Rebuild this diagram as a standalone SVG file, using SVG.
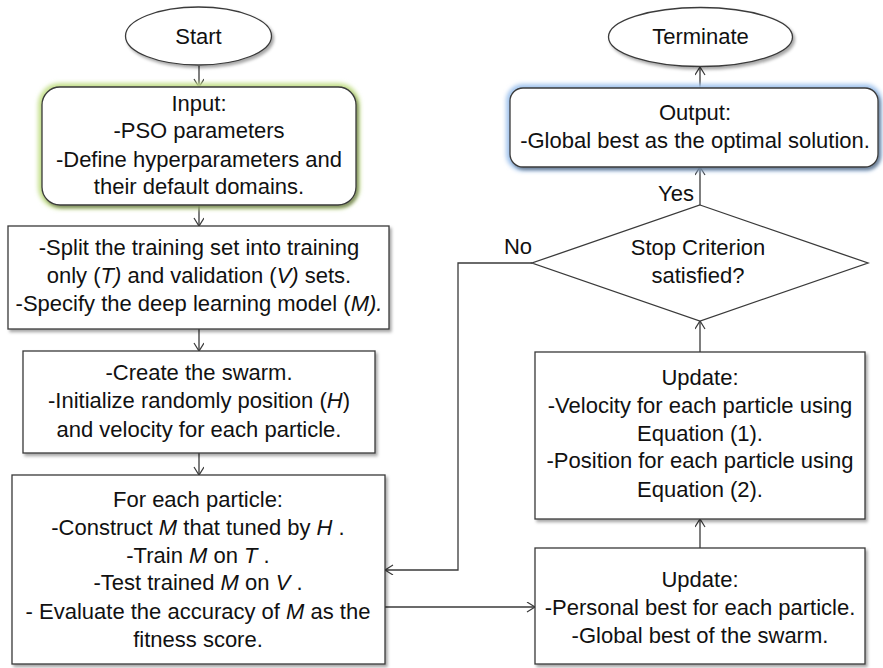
<svg xmlns="http://www.w3.org/2000/svg" width="883" height="668" viewBox="0 0 883 668">
<defs>
<style>
.box{fill:#fff;stroke:#3a3a3a;stroke-width:1.3;filter:url(#sh)}
.t{font-family:"Liberation Sans",Arial,sans-serif;font-size:22px;fill:#111;text-anchor:middle}
.i{font-style:italic}
.c{fill:none;stroke:#3a3a3a;stroke-width:1.3}
</style>
<filter id="sh" x="-10%" y="-10%" width="120%" height="130%">
<feDropShadow dx="2" dy="2.5" stdDeviation="1.5" flood-color="#000" flood-opacity="0.35"/>
</filter>
<filter id="glow" x="-10%" y="-20%" width="120%" height="140%">
<feGaussianBlur stdDeviation="2"/>
</filter>
<marker id="ah" markerUnits="userSpaceOnUse" markerWidth="12" markerHeight="12" refX="9" refY="5" orient="auto">
<path d="M1,0 L9,5 L1,10" fill="none" stroke="#3a3a3a" stroke-width="1.2"/>
</marker>
</defs>
<rect width="883" height="668" fill="#fff"/>

<g id="connectors">
<line class="c" x1="199" y1="66" x2="199" y2="87" marker-end="url(#ah)"/>
<line class="c" x1="199" y1="205" x2="199" y2="226" marker-end="url(#ah)"/>
<line class="c" x1="199" y1="329" x2="199" y2="351" marker-end="url(#ah)"/>
<line class="c" x1="199" y1="453" x2="199" y2="475" marker-end="url(#ah)"/>
<line class="c" x1="385" y1="607" x2="535" y2="607" marker-end="url(#ah)"/>
<line class="c" x1="700" y1="548" x2="700" y2="519" marker-end="url(#ah)"/>
<line class="c" x1="700" y1="352" x2="700" y2="321" marker-end="url(#ah)"/>
<line class="c" x1="700" y1="205" x2="700" y2="167" marker-end="url(#ah)"/>
<line class="c" x1="700" y1="88" x2="700" y2="67" marker-end="url(#ah)"/>
<polyline class="c" points="532,263 458,263 458,570 385,570" marker-end="url(#ah)"/>
<text class="t" x="676" y="201">Yes</text>
<text class="t" x="518" y="254">No</text>
</g>

<g id="start">
<ellipse cx="198.5" cy="36" rx="73" ry="29" class="box"/>
<text class="t" x="198.5" y="44">Start</text>
</g>

<g id="input">
<rect x="42" y="87" width="314" height="118" rx="18" fill="none" stroke="#c6e08e" stroke-width="8" filter="url(#glow)"/>
<rect x="42" y="87" width="314" height="118" rx="18" class="box"/>
<text class="t" x="199" y="111">Input:</text>
<text class="t" x="199" y="138">-PSO parameters</text>
<text class="t" x="199" y="167">-Define hyperparameters and</text>
<text class="t" x="199" y="194">their default domains.</text>
</g>

<g id="split">
<rect x="8" y="226" width="381" height="103" class="box"/>
<text class="t" x="199" y="255">-Split the training set into training</text>
<text class="t" x="199" y="283">only (<tspan class="i">T)</tspan> and validation (<tspan class="i">V)</tspan> sets.</text>
<text class="t" x="199" y="311">-Specify the deep learning model (<tspan class="i">M).</tspan></text>
</g>

<g id="swarm">
<rect x="23" y="351" width="352" height="102" class="box"/>
<text class="t" x="199" y="380">-Create the swarm.</text>
<text class="t" x="199" y="408">-Initialize randomly position (<tspan class="i">H</tspan>)</text>
<text class="t" x="199" y="437">and velocity for each particle.</text>
</g>

<g id="foreach">
<rect x="12" y="475" width="373" height="189" class="box"/>
<text class="t" x="198" y="507">For each particle:</text>
<text class="t" x="198" y="535">-Construct <tspan class="i">M</tspan> that tuned by <tspan class="i">H</tspan> .</text>
<text class="t" x="198" y="563">-Train <tspan class="i">M</tspan> on <tspan class="i">T</tspan> .</text>
<text class="t" x="198" y="590">-Test trained <tspan class="i">M</tspan> on <tspan class="i">V</tspan> .</text>
<text class="t" x="198" y="619">- Evaluate the accuracy of <tspan class="i">M</tspan> as the</text>
<text class="t" x="198" y="647">fitness score.</text>
</g>

<g id="updatePersonal">
<rect x="535" y="548" width="330" height="116" class="box"/>
<text class="t" x="700" y="587">Update:</text>
<text class="t" x="700" y="615">-Personal best for each particle.</text>
<text class="t" x="700" y="643">-Global best of the swarm.</text>
</g>

<g id="updateVelocity">
<rect x="535" y="352" width="330" height="167" class="box"/>
<text class="t" x="700" y="385">Update:</text>
<text class="t" x="700" y="413">-Velocity for each particle using</text>
<text class="t" x="700" y="441">Equation (1).</text>
<text class="t" x="700" y="468">-Position for each particle using</text>
<text class="t" x="700" y="497">Equation (2).</text>
</g>

<g id="decision">
<polygon points="700,205 868,263 700,321 532,263" fill="#fff" stroke="#3a3a3a" stroke-width="1.3"/>
<text class="t" x="698" y="255">Stop Criterion</text>
<text class="t" x="698" y="283">satisfied?</text>
</g>

<g id="output">
<rect x="510" y="88" width="368" height="79" rx="13" fill="none" stroke="#a4c6ee" stroke-width="8" filter="url(#glow)"/>
<rect x="510" y="88" width="368" height="79" rx="13" class="box"/>
<text class="t" x="695" y="120">Output:</text>
<text class="t" x="695" y="148">-Global best as the optimal solution.</text>
</g>

<g id="terminate">
<ellipse cx="700.5" cy="37" rx="92" ry="29.5" class="box"/>
<text class="t" x="700.5" y="44">Terminate</text>
</g>
</svg>
